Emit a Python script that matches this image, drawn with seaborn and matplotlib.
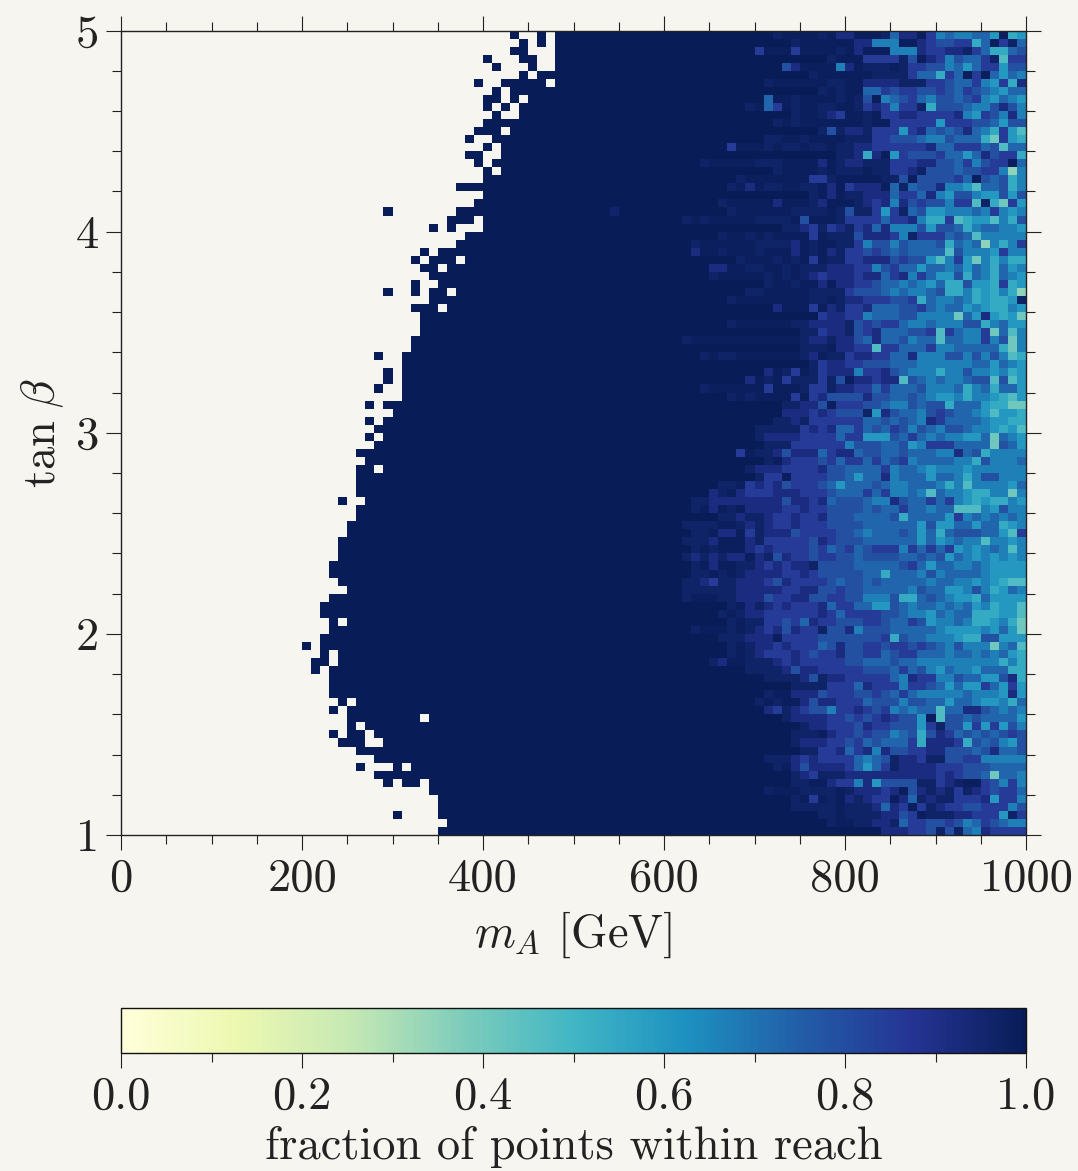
import numpy as np
import pandas as pd
import matplotlib
matplotlib.use('Agg')
import matplotlib.pyplot as plt
from matplotlib.ticker import FixedLocator
import seaborn as sns

bg = '#f6f5f0'
n_bins = 100

plt.rcParams['font.family'] = ['cmr10', 'DejaVu Sans']
plt.rcParams['mathtext.fontset'] = 'cm'
plt.rcParams['axes.formatter.use_mathtext'] = True
plt.rcParams['axes.linewidth'] = 1.0

x_ticks = [0, 200, 400, 600, 800, 1000]
y_ticks = [1, 2, 3, 4, 5]
cbar_ticks = [0.0, 0.2, 0.4, 0.6, 0.8, 1.0]

# first bin of the solid region in every row, row 0 is tan beta = 5
solid_start = [48, 48, 48, 48, 48, 46, 42, 43, 45, 44,
               44, 40, 39, 41, 42, 42, 41, 42, 40, 37,
               40, 39, 37, 40, 40, 38, 37, 35, 38, 36,
               34, 35, 37, 34, 36, 33, 33, 33, 32, 32,
               31, 31, 31, 31, 31, 31, 29, 30, 29, 28,
               29, 28, 26, 27, 26, 26, 26, 26, 27, 26,
               26, 25, 25, 24, 24, 24, 23, 23, 24, 25,
               23, 22, 22, 25, 23, 22, 22, 22, 21, 23,
               23, 23, 23, 26, 25, 25, 27, 28, 29, 26,
               28, 32, 28, 34, 34, 35, 35, 35, 36, 35]

# filled bins left of the solid region
islands = {0: [43, 46], 1: [44, 46], 2: [43, 44], 3: [40, 44, 45], 4: [41, 45],
           5: [44], 6: [39], 7: [41], 8: [40, 41, 43], 9: [40, 42], 10: [41],
           13: [38], 14: [40], 15: [38, 39], 16: [39], 17: [40], 22: [29],
           23: [36, 37, 38], 24: [34, 36], 27: [33], 28: [32, 34, 35, 36],
           29: [33, 34], 31: [32], 32: [29, 32, 34, 35], 34: [32, 33, 34],
           40: [28], 42: [29], 43: [29], 44: [28], 46: [27], 48: [27], 50: [27],
           58: [24], 73: [23], 76: [20], 79: [21], 83: [24], 84: [23], 86: [25],
           87: [23, 25, 26], 88: [24, 25, 26], 91: [26, 30], 93: [29, 31, 32],
           97: [30]}

# empty bins inside the solid region
holes = {2: [47], 4: [47], 0: [47], 1: [47], 6: [47], 12: [42], 54: [28],
         77: [23], 78: [23], 85: [33]}

# bins 60..99 of every row, one character per bin, see shade_levels
shaded_rows = [
    "0000000000 0010000102 2000152203 6566557087",
    "0000000000 0000100000 0226660023 4433850315",
    "0000000000 3000300001 0200066623 3221358854",
    "0000000000 0000000010 0033331402 3645531933",
    "0000000000 0004200006 2011101334 4657533744",
    "0000000000 0000001000 0001111355 8350305756",
    "0000000000 0100000011 0022221113 3455367382",
    "0000000000 0000000101 0055343344 3453456755",
    "0000000000 0500100001 0140654356 4454367567",
    "0000000001 0530100110 0132363318 4445664246",
    "0000000000 0000100123 0010332233 3326734626",
    "0000000000 0010100000 0010033333 7333445744",
    "0000000000 0000000141 2213337325 4542568379",
    "0000000000 0110010000 1113344456 645558a378",
    "0000000300 0101101101 1223333332 5533354955",
    "0000000000 0000000001 1282073444 3557524338",
    "0000100000 1110000201 2211133322 4453643305",
    "0000000000 0010000101 1101133214 44544336b6",
    "0000000010 0000003310 0000114044 4435045486",
    "0000000102 0110011020 3222051544 2667955486",
    "0000000000 0000001020 1122253352 6744677474",
    "0000001000 0020001200 0123262434 4633918a37",
    "0000000100 0000111101 4113731547 7666563676",
    "0010100000 1111040001 3333533268 8398779684",
    "0000000000 0001123132 1325266647 4458655667",
    "0000001001 0100003011 1422236133 3545966666",
    "0001000000 1111201001 1364464555 48565b6863",
    "0002001000 1000201021 3343454555 5946667366",
    "0000000010 0010103011 3322243447 9637a68688",
    "0000022001 1001011122 2336435575 5657568576",
    "0000010000 0101012322 2322532635 7748568567",
    "0000000000 0100100202 2334556567 5884778387",
    "0000000001 1000001111 3444565665 488687868b",
    "0000000100 0000001101 2233344385 6656878871",
    "0000000000 0020003021 3325554435 6557678867",
    "0000000000 0000000322 3365554466 66a572787a",
    "0000000100 0000112222 1434335665 6664486577",
    "0000000000 0000011322 1432555443 935663a596",
    "0010000000 0000012212 2452554655 95566364a6",
    "0000000000 0000011102 2339335553 66555558a6",
    "0000101100 0000012011 3223355266 6446464698",
    "0000000000 0000001322 3344455566 6666557567",
    "0000000000 0201301322 2633245666 8664667687",
    "0000000002 0103111314 0223229456 5665449497",
    "0000100000 0300013312 2335355546 6658658557",
    "0000000101 0000303244 4424455456 7768667897",
    "0000000000 0001122403 3344566454 48555788aa",
    "0000000000 0002223234 4417245564 3455679778",
    "0000000000 0011213333 3355454562 3555567788",
    "0000000000 1111132325 5354534645 6445667879",
    "0000000000 1222233335 3377745356 566775a567",
    "0000000000 0111333333 6444554763 335555a457",
    "0000000030 1124222532 2544554555 6625486666",
    "0000000000 0102333435 3353543655 5566846665",
    "0000000001 2223333244 5555365567 6667666666",
    "0000000000 1330333344 5755265557 5568644666",
    "0000001103 2324333457 5554566555 6869666675",
    "0000021023 3322233345 5535366569 56678866a6",
    "0001122222 2224223254 4456624553 5367878867",
    "0001020102 2223323344 4454553556 5599967466",
    "0000001121 1233233244 4555548555 5736565656",
    "0011110012 1233233344 4455555574 7755755876",
    "0001102203 1222433334 4565554575 8544455793",
    "0011120002 1333334234 4455555575 7656696676",
    "0001010002 3233334354 3543336353 5376765696",
    "0012121220 2142334334 4544445545 4756767676",
    "0001020011 2323221444 4555554357 5566567777",
    "0001101012 2223323444 4455855564 6555567777",
    "0011231122 2342333345 4454555556 5566767899",
    "0011111122 2223322443 4455555645 5776468756",
    "0010001122 2433224433 4466648854 5677857777",
    "0000000102 1232333253 3557745655 6565768779",
    "0000001012 2333333235 3333445667 5655888779",
    "0000000101 1334352334 4433455347 665688768a",
    "0001000101 2324233144 2644455555 677776757a",
    "0000001112 2203333444 4444384556 6678844777",
    "0000000101 2232333542 4433433434 564666a659",
    "0000000101 2333234332 4433543355 5655656578",
    "0000012001 1123233333 4455545566 6666666868",
    "0000000001 1112422333 3344453546 7566755588",
    "0000000000 0111124122 3333356233 6645577428",
    "0000000000 0000111133 3523336334 5757735737",
    "0000000000 0100222433 3443453566 6665666727",
    "0000000000 1010024223 3354446445 5755677685",
    "0000000000 0231234463 3234365655 9552245656",
    "0000000000 0001222233 4343234470 9445455557",
    "0000000000 0000012233 3423344473 1447373746",
    "0000000000 0000111023 3434465484 2354545434",
    "0000000000 0000122233 4354555382 2238454674",
    "0000000000 0000011332 5326244332 2444542554",
    "0000000000 0111232333 3565412231 1443366666",
    "0000000000 0010242222 3575312222 3334445555",
    "0000000000 0000123111 2222222222 323445a556",
    "0000000000 0000110023 3627444411 3210034636",
    "0000000000 0100011110 1222320421 2131234335",
    "0000000000 0000103010 2123302512 1133327336",
    "0000000000 0000111110 1112523031 2334433364",
    "0000000000 0000000110 1111224301 1122333713",
    "0000000000 0000000010 0112215334 4346534566",
    "0000000000 0000000000 0000222334 1415623333",
]
shade_levels = [1.0, 0.965, 0.915, 0.855, 0.79, 0.73, 0.665, 0.60, 0.54, 0.47, 0.41, 0.35]
# a '0' right of the first tinted bin of a row is still a little off 1
faint_level = 0.985

fraction = np.full((n_bins, n_bins), np.nan)
for r in range(n_bins):
    fraction[r, solid_start[r]:] = 1.0
    for c in islands.get(r, []):
        fraction[r, c] = 1.0
    for c in holes.get(r, []):
        fraction[r, c] = np.nan
    tinted = False
    for i, ch in enumerate(shaded_rows[r].replace(' ', '')):
        level = int(ch, 16)
        if level > 0:
            tinted = True
        fraction[r, 60 + i] = faint_level if (tinted and level == 0) else shade_levels[level]
fraction[22, 54] = 0.96

df = pd.DataFrame(fraction)

W, H = 1078, 1171
fig = plt.figure(figsize=(W / 100, H / 100), dpi=100, facecolor=bg)
ax = fig.add_axes([121 / W, 1 - 835 / H, 905 / W, 804.5 / H], facecolor=bg)
cax = fig.add_axes([121 / W, 1 - 1053 / H, 905 / W, 45 / H])

sns.heatmap(df, ax=ax, cmap='YlGnBu', vmin=0, vmax=1, cbar_ax=cax,
            cbar_kws={'orientation': 'horizontal'},
            xticklabels=False, yticklabels=False)

fs = 33.5
# heatmap axes run in bin numbers, row 0 on top
ax.set_xticks([v / 10 for v in x_ticks])
ax.set_xticklabels([str(v) for v in x_ticks], fontsize=fs)
ax.set_yticks([(5 - v) * 25 for v in y_ticks])
ax.set_yticklabels([str(v) for v in y_ticks], fontsize=fs, rotation=0)
ax.xaxis.set_minor_locator(FixedLocator(np.arange(0, 101, 5)))
ax.yaxis.set_minor_locator(FixedLocator(np.arange(0, 101, 5)))
ax.tick_params(which='major', direction='out', length=10.8, width=0.8, top=True, right=True,
               bottom=True, left=True, color='#222222', labelcolor='#222222')
ax.tick_params(which='major', axis='x', pad=6)
ax.tick_params(which='major', axis='y', pad=5)
ax.tick_params(which='minor', direction='out', length=6.5, width=0.8, top=True, right=True,
               bottom=True, left=True, color='#222222')
for s in ax.spines.values():
    s.set_visible(True)
    s.set_linewidth(1.0)
    s.set_color('#222222')
ax.set_xlabel(r'$m_A$ [GeV]', fontsize=fs, labelpad=7, color='#222222')
ax.set_ylabel(r'$\tan\,\beta$', fontsize=fs, labelpad=7, color='#222222')

cb = ax.collections[0].colorbar
cb.outline.set_visible(True)
cb.outline.set_linewidth(1.0)
cb.outline.set_edgecolor('#111111')
cb.set_ticks(cbar_ticks)
cb.set_ticklabels([f'{v:.1f}' for v in cbar_ticks], fontsize=fs)
cax.xaxis.set_minor_locator(FixedLocator(np.arange(0.1, 1.0, 0.2)))
cax.tick_params(which='major', axis='x', direction='out', length=10.8, width=0.8, pad=6,
                color='#222222', labelcolor='#222222')
cax.tick_params(which='minor', axis='x', direction='out', length=6.5, width=0.8, color='#222222')
cax.set_xlabel('fraction of points within reach', fontsize=fs, labelpad=6, color='#222222')

plt.savefig('out.png', dpi=100, facecolor=bg)
plt.close('all')
